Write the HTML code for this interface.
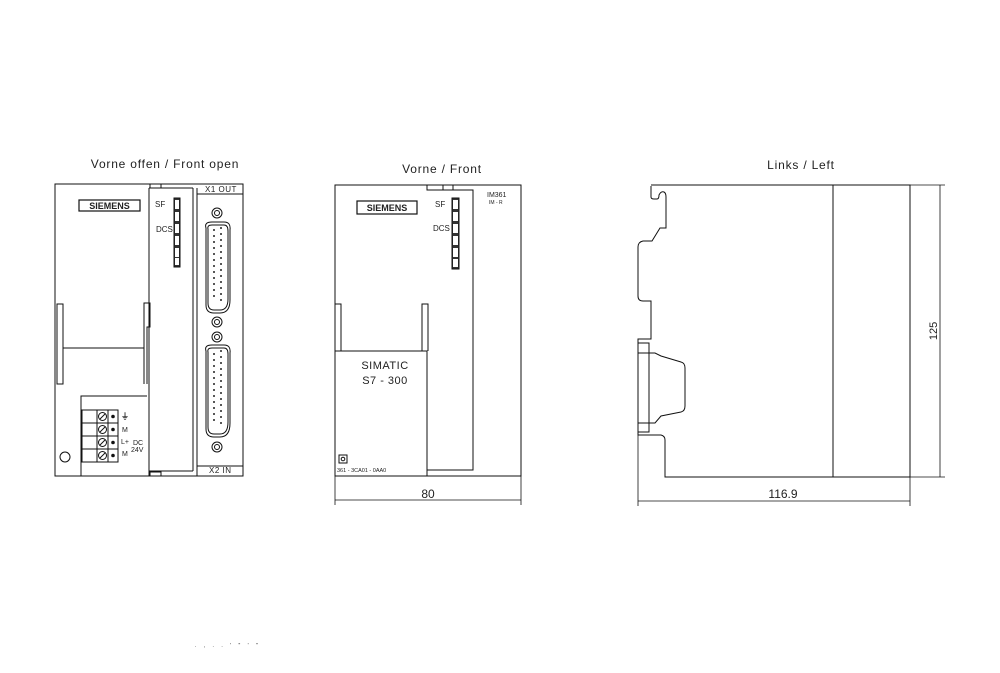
<!DOCTYPE html>
<html><head><meta charset="utf-8"><style>
html,body{margin:0;padding:0;background:#fff;}
svg{display:block;}
text{font-family:"Liberation Sans",sans-serif;fill:#222;}
</style></head><body>
<svg width="1000" height="673" viewBox="0 0 1000 673" xmlns="http://www.w3.org/2000/svg" fill="none" stroke="#111" stroke-width="1">
<!-- titles -->
<text x="165" y="168" font-size="12" text-anchor="middle" stroke="none" letter-spacing="0.8">Vorne offen / Front open</text>
<text x="442" y="173" font-size="12" text-anchor="middle" stroke="none" letter-spacing="0.8">Vorne / Front</text>
<text x="801" y="169" font-size="12" text-anchor="middle" stroke="none" letter-spacing="0.8">Links / Left</text>

<!-- ===== LEFT VIEW ===== -->
<rect x="55" y="184" width="188" height="292"/>
<rect x="150" y="184" width="11" height="4"/>
<rect x="150" y="472" width="11" height="4"/>
<line x1="149" y1="188" x2="149" y2="476"/>
<line x1="193" y1="188" x2="193" y2="471"/>
<line x1="197" y1="188" x2="197" y2="476"/>
<line x1="149" y1="188" x2="193" y2="188"/>
<line x1="149" y1="471" x2="193" y2="471"/>
<line x1="197" y1="194" x2="243" y2="194"/>
<line x1="197" y1="466" x2="243" y2="466"/>
<text x="205" y="192" font-size="8" stroke="none" letter-spacing="0.5">X1 OUT</text>
<text x="209" y="473" font-size="8" stroke="none" letter-spacing="0.5">X2 IN</text>
<rect x="79" y="200" width="61" height="11" stroke-width="1.2"/>
<text x="109.5" y="209" font-size="9" font-weight="bold" text-anchor="middle" stroke="none" font-family="Liberation Serif">SIEMENS</text>
<text x="155" y="207" font-size="8" stroke="none" fill="#444">SF</text>
<text x="156" y="232" font-size="8" stroke="none" fill="#444">DCS</text>
<g>
<rect x="174" y="198" width="6" height="69" fill="#333"/>
<rect x="175" y="200" width="4" height="9" fill="#fff" stroke="none"/>
<rect x="175" y="212" width="4" height="9" fill="#fff" stroke="none"/>
<rect x="175" y="224" width="4" height="9" fill="#fff" stroke="none"/>
<rect x="175" y="236" width="4" height="9" fill="#fff" stroke="none"/>
<rect x="175" y="248" width="4" height="9" fill="#fff" stroke="none"/>
<rect x="175" y="258" width="4" height="7" fill="#fff" stroke="none"/>
</g>
<!-- slot -->
<rect x="57" y="304" width="6" height="80"/>
<path d="M144 384 V303 H150 V327 H147 V384"/>
<line x1="63" y1="348" x2="144" y2="348"/>
<!-- terminal block -->
<path d="M81 476 V396 H147"/>
<g>
<rect x="82" y="410" width="15" height="13"/><rect x="82" y="423" width="15" height="13"/><rect x="82" y="436" width="15" height="13"/><rect x="82" y="449" width="15" height="13"/>
<rect x="97" y="410" width="11" height="52"/><rect x="108" y="410" width="10" height="52"/>
<line x1="97" y1="423" x2="118" y2="423"/><line x1="97" y1="436" x2="118" y2="436"/><line x1="97" y1="449" x2="118" y2="449"/>
<circle cx="102.5" cy="416.5" r="4"/><circle cx="102.5" cy="429.5" r="4"/><circle cx="102.5" cy="442.5" r="4"/><circle cx="102.5" cy="455.5" r="4"/>
<line x1="100" y1="419" x2="105" y2="414"/><line x1="100" y1="432" x2="105" y2="427"/><line x1="100" y1="445" x2="105" y2="440"/><line x1="100" y1="458" x2="105" y2="453"/>
<circle cx="113" cy="416.5" r="1.3" fill="#111"/><circle cx="113" cy="429.5" r="1.3" fill="#111"/><circle cx="113" cy="442.5" r="1.3" fill="#111"/><circle cx="113" cy="455.5" r="1.3" fill="#111"/>
<line x1="82" y1="462" x2="118" y2="462"/>
</g>
<text x="121" y="419" font-size="8" stroke="none" font-weight="bold">⏚</text>
<text x="122" y="432" font-size="7" stroke="none" fill="#444">M</text>
<text x="121" y="444" font-size="7" stroke="none" fill="#444">L+</text>
<text x="122" y="456" font-size="7" stroke="none" fill="#444">M</text>
<text x="133" y="445" font-size="7" stroke="none" fill="#444">DC</text>
<text x="131" y="452" font-size="7" stroke="none" fill="#444">24V</text>
<circle cx="65" cy="457" r="5"/>
<!-- connectors -->
<g id="nut"><circle cx="217" cy="213" r="5"/><circle cx="217" cy="213" r="2.5"/></g>
<circle cx="217" cy="322" r="5"/><circle cx="217" cy="322" r="2.5"/>
<circle cx="217" cy="337" r="5"/><circle cx="217" cy="337" r="2.5"/>
<circle cx="217" cy="447" r="5"/><circle cx="217" cy="447" r="2.5"/>
<path d="M206 228 Q204 222 212 222 H224 Q231 222 230 230 V300 Q230 313 220 313 H214 Q206 313 206 305 Z"/>
<path d="M208 229 Q207 225 212 225 H224 Q228 225 228 231 V299 Q228 310 220 310 H214 Q208 310 208 303 Z"/>
<path d="M206 351 Q204 345 212 345 H224 Q231 345 230 353 V423 Q230 437 220 437 H214 Q206 437 206 429 Z"/>
<path d="M208 352 Q207 348 212 348 H224 Q228 348 228 354 V422 Q228 434 220 434 H214 Q208 434 208 427 Z"/>
<g fill="#222" stroke="none">
<circle cx="214" cy="230" r="1"/><circle cx="214" cy="236" r="1"/><circle cx="214" cy="242" r="1"/><circle cx="214" cy="248" r="1"/><circle cx="214" cy="254" r="1"/><circle cx="214" cy="260" r="1"/><circle cx="214" cy="266" r="1"/><circle cx="214" cy="272" r="1"/><circle cx="214" cy="278" r="1"/><circle cx="214" cy="284" r="1"/><circle cx="214" cy="290" r="1"/><circle cx="214" cy="296" r="1"/>
<circle cx="221" cy="228" r="1"/><circle cx="221" cy="234" r="1"/><circle cx="221" cy="240" r="1"/><circle cx="221" cy="246" r="1"/><circle cx="221" cy="252" r="1"/><circle cx="221" cy="258" r="1"/><circle cx="221" cy="264" r="1"/><circle cx="221" cy="270" r="1"/><circle cx="221" cy="276" r="1"/><circle cx="221" cy="282" r="1"/><circle cx="221" cy="288" r="1"/><circle cx="221" cy="294" r="1"/><circle cx="221" cy="300" r="1"/>
<circle cx="214" cy="354" r="1"/><circle cx="214" cy="360" r="1"/><circle cx="214" cy="366" r="1"/><circle cx="214" cy="372" r="1"/><circle cx="214" cy="378" r="1"/><circle cx="214" cy="384" r="1"/><circle cx="214" cy="390" r="1"/><circle cx="214" cy="396" r="1"/><circle cx="214" cy="402" r="1"/><circle cx="214" cy="408" r="1"/><circle cx="214" cy="414" r="1"/><circle cx="214" cy="420" r="1"/>
<circle cx="221" cy="351" r="1"/><circle cx="221" cy="357" r="1"/><circle cx="221" cy="363" r="1"/><circle cx="221" cy="369" r="1"/><circle cx="221" cy="375" r="1"/><circle cx="221" cy="381" r="1"/><circle cx="221" cy="387" r="1"/><circle cx="221" cy="393" r="1"/><circle cx="221" cy="399" r="1"/><circle cx="221" cy="405" r="1"/><circle cx="221" cy="411" r="1"/><circle cx="221" cy="417" r="1"/><circle cx="221" cy="423" r="1"/>
</g>

<!-- ===== MIDDLE VIEW ===== -->
<rect x="335" y="185" width="186" height="291"/>
<rect x="427" y="185" width="26" height="5"/>
<line x1="443" y1="185" x2="443" y2="190"/>
<path d="M427 190 H473 V470 H427"/>
<path d="M335 304 H341 V351"/>
<path d="M422 351 V304 H428 V351"/>
<rect x="335" y="351" width="92" height="125"/>
<text x="385" y="369" font-size="11" text-anchor="middle" stroke="none" fill="#333" letter-spacing="0.5">SIMATIC</text>
<text x="385" y="384" font-size="11" text-anchor="middle" stroke="none" fill="#333" letter-spacing="0.5">S7 - 300</text>
<rect x="339" y="455" width="8" height="8"/><circle cx="343" cy="459" r="1.8"/>
<text x="337" y="472" font-size="5.5" stroke="none" fill="#444">361 - 3CA01 - 0AA0</text>
<rect x="357" y="201" width="60" height="13" stroke-width="1.2"/>
<text x="387" y="211" font-size="9" font-weight="bold" text-anchor="middle" stroke="none" font-family="Liberation Serif">SIEMENS</text>
<text x="435" y="207" font-size="8" stroke="none" fill="#444">SF</text>
<text x="433" y="231" font-size="8" stroke="none" fill="#444">DCS</text>
<g>
<rect x="452" y="198" width="7" height="71" fill="#333"/>
<rect x="453" y="200" width="5" height="9" fill="#fff" stroke="none"/>
<rect x="453" y="212" width="5" height="9" fill="#fff" stroke="none"/>
<rect x="453" y="224" width="5" height="9" fill="#fff" stroke="none"/>
<rect x="453" y="236" width="5" height="9" fill="#fff" stroke="none"/>
<rect x="453" y="248" width="5" height="9" fill="#fff" stroke="none"/>
<rect x="453" y="259" width="5" height="8" fill="#fff" stroke="none"/>
</g>
<text x="487" y="197" font-size="7" stroke="none" fill="#444">IM361</text>
<text x="489" y="204" font-size="5" stroke="none" fill="#444">IM - R</text>
<line x1="335" y1="476" x2="335" y2="505" stroke-width="0.8"/>
<line x1="521" y1="476" x2="521" y2="505" stroke-width="0.8"/>
<line x1="335" y1="500" x2="521" y2="500" stroke-width="0.8"/>
<text x="428" y="498" font-size="12" text-anchor="middle" stroke="none" fill="#333">80</text>

<!-- ===== RIGHT VIEW ===== -->
<path d="M651 186 V197 Q651 199 654 199 H657 Q659 199 659 195 Q661 191 664 192 Q666 193 666 197 V228 H660 L652 241 H643 Q638 242 638 247 V296 Q638 301 643 301 H651 V339 H638 V435 H661 Q665 436 665 440 V477 H910 V185 H651"/>
<line x1="833" y1="185" x2="833" y2="477"/>
<rect x="638" y="343" width="11" height="89"/>
<line x1="638" y1="353" x2="649" y2="353"/><line x1="638" y1="423" x2="649" y2="423"/>
<path d="M649 353 L655 353 L661 356 L681 362 Q685 363 685 368 V406 Q685 411 681 412 L661 416 L655 423 H649"/>
<line x1="910" y1="185" x2="945" y2="185" stroke-width="0.8"/>
<line x1="910" y1="477" x2="945" y2="477" stroke-width="0.8"/>
<line x1="940" y1="185" x2="940" y2="477" stroke-width="0.8"/>
<text transform="translate(937 331) rotate(-90)" font-size="11" text-anchor="middle" stroke="none" fill="#333">125</text>
<line x1="638" y1="435" x2="638" y2="506" stroke-width="0.8"/>
<line x1="910" y1="477" x2="910" y2="506" stroke-width="0.8"/>
<line x1="638" y1="501" x2="910" y2="501" stroke-width="0.8"/>
<text x="783" y="498" font-size="12" text-anchor="middle" stroke="none" fill="#333">116.9</text>

<text x="195" y="647" font-size="5" stroke="none" fill="#999" letter-spacing="3">.  ,  .  .   ' " ' "</text>
</svg>
</body></html>
